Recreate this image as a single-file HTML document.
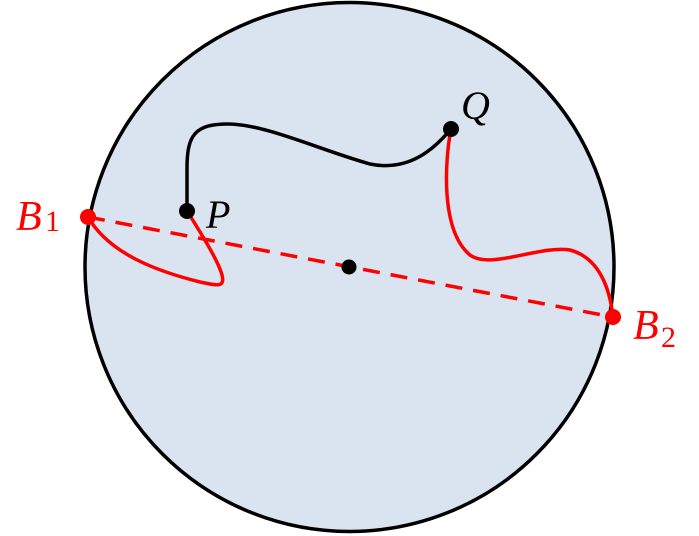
<!DOCTYPE html>
<html><head><style>
html,body{margin:0;padding:0;background:#fff;width:699px;height:536px;overflow:hidden}
svg{display:block}
text{font-family:"Liberation Serif",serif}
.i{font-style:italic}
</style></head><body>
<svg width="699" height="536" viewBox="0 0 699 536">
<circle cx="349.5" cy="267" r="264.5" fill="#dae3f0" stroke="#000" stroke-width="3.5"/>
<line x1="88" y1="217" x2="613" y2="317" stroke="#f00" stroke-width="3.5" stroke-dasharray="17,11"/>
<path d="M187,211 L187,168 C187,135 195,124 228,124 C265,124 320,150 370,164 C410,172 435,148 451,129" fill="none" stroke="#000" stroke-width="3.5"/>
<path d="M189,214 C200,232 218,260 222,275 C226,290 212,284 200,282 C160,272 110,255 88,217" fill="none" stroke="#f00" stroke-width="3.5"/>
<path d="M451,129 C445,160 440,230 470,255 C490,270 540,245 570,250 C600,258 610,290 613,317" fill="none" stroke="#f00" stroke-width="3.5"/>
<circle cx="88" cy="217" r="8" fill="#f00"/>
<circle cx="613" cy="317" r="8" fill="#f00"/>
<circle cx="187" cy="211" r="8" fill="#000"/>
<circle cx="451" cy="129" r="8" fill="#000"/>
<circle cx="349" cy="267" r="7.5" fill="#000"/>
<text class="i" x="16" y="230" font-size="42" fill="#f00">B</text>
<text x="45" y="231" font-size="30" fill="#f00">1</text>
<text class="i" x="206" y="228" font-size="40" fill="#000">P</text>
<text class="i" x="461" y="119" font-size="40" fill="#000">Q</text>
<text class="i" x="633" y="339" font-size="42" fill="#f00">B</text>
<text x="661" y="347" font-size="30" fill="#f00">2</text>
</svg>
</body></html>
